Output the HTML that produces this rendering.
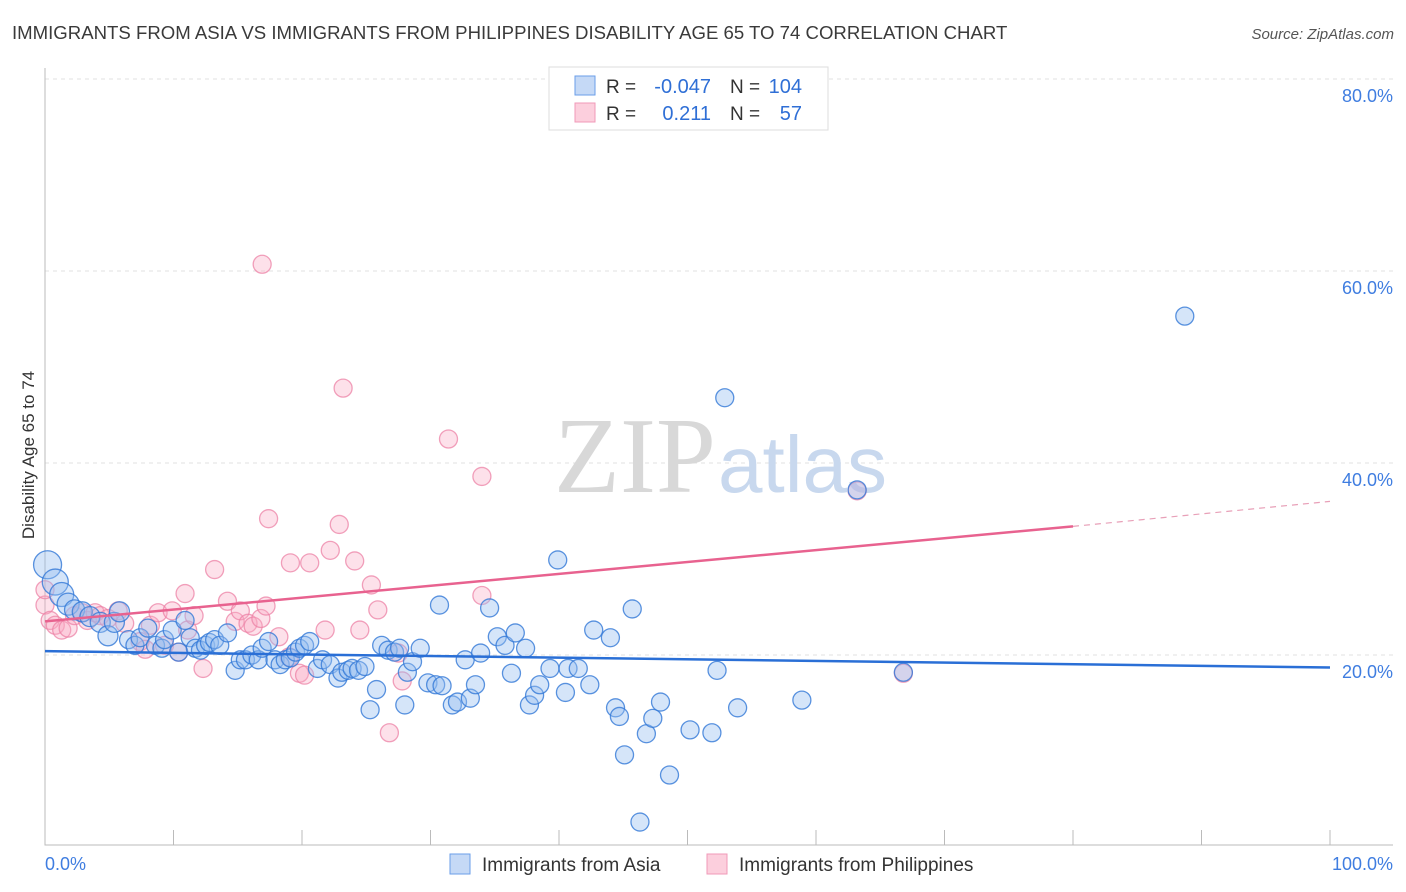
<!DOCTYPE html>
<html><head><meta charset="utf-8">
<style>
body{margin:0;background:#fff;font-family:"Liberation Sans",sans-serif;}
svg{display:block}
</style></head>
<body>
<svg width="1406" height="892">
<text x="12" y="39" font-size="18.6" fill="#3a3a3a">IMMIGRANTS FROM ASIA VS IMMIGRANTS FROM PHILIPPINES DISABILITY AGE 65 TO 74 CORRELATION CHART</text>
<text x="1394" y="39" font-size="15" fill="#555" text-anchor="end" font-style="italic">Source: ZipAtlas.com</text>
<text x="34" y="455" font-size="17" fill="#333" text-anchor="middle" transform="rotate(-90 34 455)">Disability Age 65 to 74</text>
<g id="grid"></g>
<text x="716" y="492" font-size="108" fill="#d8d8d8" text-anchor="end" font-family="Liberation Serif">ZIP</text>
<text x="718" y="492" font-size="80" fill="#c8d8ee">atlas</text>
<g id="pts"></g>
<g id="lines"></g>
<g>
<rect x="549" y="67" width="279" height="63" fill="#fff" stroke="#ddd"/>
<rect x="575" y="76" width="20" height="19" fill="#c5d9f6" stroke="#6a9ee8"/>
<rect x="575" y="103" width="20" height="19" fill="#fccfdd" stroke="#f09ab8"/>
<text x="606" y="93" font-size="19" fill="#333">R =</text>
<text x="711" y="93" font-size="20" fill="#2f6fd6" text-anchor="end">-0.047</text>
<text x="730" y="93" font-size="19" fill="#333">N =</text>
<text x="802" y="93" font-size="20" fill="#2f6fd6" text-anchor="end">104</text>
<text x="606" y="120" font-size="19" fill="#333">R =</text>
<text x="711" y="120" font-size="20" fill="#2f6fd6" text-anchor="end">0.211</text>
<text x="730" y="120" font-size="19" fill="#333">N =</text>
<text x="802" y="120" font-size="20" fill="#2f6fd6" text-anchor="end">57</text>
</g>
<g>
<rect x="450" y="854" width="20" height="20" fill="#c5d9f6" stroke="#6a9ee8"/>
<text x="482" y="871" font-size="19" fill="#333">Immigrants from Asia</text>
<rect x="707" y="854" width="20" height="20" fill="#fccfdd" stroke="#f09ab8"/>
<text x="739" y="871" font-size="19" fill="#333">Immigrants from Philippines</text>
</g>
<text x="45" y="870" font-size="18" fill="#3f7de0">0.0%</text>
<text x="1393" y="870" font-size="18" fill="#3f7de0" text-anchor="end">100.0%</text>
</svg>
<script>
const yTicks=[20,40,60,80];
const yTickLabels=["20.0%","40.0%","60.0%","80.0%"];
const asiaX=[0.2,0.8,1.3,1.8,2.3,2.9,3.5,4.3,4.9,5.4,5.8,6.5,7.0,7.4,8.0,8.6,9.1,9.3,9.9,10.4,10.9,11.3,11.7,12.1,12.5,12.8,13.2,13.6,14.2,14.8,15.2,15.6,16.1,16.6,16.9,17.4,17.9,18.3,18.7,19.1,19.5,19.8,20.2,20.6,21.2,21.6,22.2,22.8,23.1,23.6,23.9,24.4,24.9,25.3,25.8,26.2,26.7,27.2,27.6,28.0,28.2,28.6,29.2,29.8,30.4,30.7,30.9,31.7,32.1,32.7,33.1,33.5,33.9,34.6,35.2,35.8,36.3,36.6,37.4,37.7,38.1,38.5,39.3,39.9,40.5,40.7,41.5,42.4,42.7,44.0,44.4,44.7,45.1,45.7,46.3,46.8,47.3,47.9,48.6,50.2,51.9,52.3,52.9,53.9,58.9,63.2,66.8,88.7];
const asiaY=[29.4,27.6,26.3,25.3,24.7,24.5,24.0,23.4,22.0,23.4,24.5,21.6,21.0,21.8,22.8,21.0,20.7,21.6,22.6,20.3,23.6,21.8,20.7,20.5,21.0,21.3,21.6,21.0,22.3,18.4,19.5,19.5,20.0,19.5,20.7,21.4,19.5,19.0,19.5,19.7,20.3,20.7,21.0,21.4,18.6,19.5,19.0,17.6,18.2,18.4,18.6,18.4,18.8,14.3,16.4,21.0,20.5,20.3,20.7,14.8,18.2,19.3,20.7,17.1,16.9,25.2,16.8,14.8,15.1,19.5,15.5,16.9,20.2,24.9,21.9,21.0,18.1,22.3,20.7,14.8,15.8,16.9,18.6,29.9,16.1,18.6,18.6,16.9,22.6,21.8,14.5,13.6,9.6,24.8,2.6,11.8,13.4,15.1,7.5,12.2,11.9,18.4,46.8,14.5,15.3,37.2,18.2,55.3];
const philX=[0,0.4,0.8,1.3,1.8,2.3,2.9,3.3,3.9,4.3,4.9,5.7,6.2,7.4,7.8,8.2,8.8,9.3,9.9,10.4,10.9,11.1,11.6,12.3,13.2,14.2,14.8,15.2,15.8,16.2,16.8,17.2,16.9,17.4,18.2,19,19.1,19.8,20.2,20.6,21.8,22.2,22.9,23.2,24.1,24.5,25.4,25.9,26.8,27.5,27.8,31.4,34,34,63.2,66.8,0];
const philY=[25.2,23.6,23.1,22.6,22.8,24.1,24.4,23.6,24.4,24.1,23.8,24.6,23.3,21.4,20.6,23.1,24.4,21,24.6,20.3,26.4,22.6,24.1,18.6,28.9,25.6,23.5,24.6,23.3,23,23.8,25.1,60.7,34.2,21.9,19.8,29.6,18.1,17.9,29.6,22.6,30.9,33.6,47.8,29.8,22.6,27.3,24.7,11.9,20.2,17.3,42.5,38.6,26.2,37.1,18.1,26.8];
const asiaR=[14,13,12,11,10,10,10,10,10,10,10];
const ns="http://www.w3.org/2000/svg";
const X0=45,X1=1330,YB=847,PX_PER=9.6;
const xs=v=>X0+(X1-X0)*v/100;
const ys=v=>YB-v*PX_PER;
const grid=document.getElementById('grid');
yTicks.forEach((t,i)=>{
 const l=document.createElementNS(ns,'line');
 
 
 l.setAttribute('x1',45);l.setAttribute('x2',1393);l.setAttribute('y1',ys(t));l.setAttribute('y2',ys(t));
 l.setAttribute('stroke','#e2e2e2');l.setAttribute('stroke-dasharray','4 4');grid.appendChild(l);
 const tx=document.createElementNS(ns,'text');
 
 
 tx.setAttribute('x',1393);tx.setAttribute('y',ys(t)+23);tx.setAttribute('text-anchor','end');
 tx.setAttribute('font-size','18');tx.setAttribute('fill','#3f7de0');tx.textContent=yTickLabels[i];grid.appendChild(tx);
});
const ax=document.createElementNS(ns,'path');


let d='M45 68V845H1393';
for(let i=0;i<=10;i++){const x=X0+(X1-X0)*i/10;d+=`M${x} 845V830`;}
ax.setAttribute('d',d);ax.setAttribute('stroke','#bbb');ax.setAttribute('fill','none');grid.appendChild(ax);
const pts=document.getElementById('pts');
function dot(x,y,r,fill,stroke,name){
 const c=document.createElementNS(ns,'circle');
 
 
 c.setAttribute('cx',xs(x));c.setAttribute('cy',ys(y));c.setAttribute('r',r);
 c.setAttribute('fill',fill);c.setAttribute('stroke',stroke);c.setAttribute('stroke-width','1.3');pts.appendChild(c);
}
philX.forEach((x,i)=>dot(x,philY[i],9,'rgba(248,170,196,0.35)','rgba(236,130,165,0.75)','philippines-point'));
asiaX.forEach((x,i)=>dot(x,asiaY[i],asiaR[i]||9,'rgba(150,190,240,0.4)','rgba(50,120,215,0.8)','asia-point'));
const lines=document.getElementById('lines');
function line(x1,y1,x2,y2,col,w,dash,name){
 const l=document.createElementNS(ns,'line');
 
 
 l.setAttribute('x1',xs(x1));l.setAttribute('y1',ys(y1));l.setAttribute('x2',xs(x2));l.setAttribute('y2',ys(y2));
 l.setAttribute('stroke',col);l.setAttribute('stroke-width',w);if(dash)l.setAttribute('stroke-dasharray',dash);lines.appendChild(l);
}
const asiaTrend=[20.4,18.7];
const philTrend=[23.5,33.4,36.0];
line(0,asiaTrend[0],100,asiaTrend[1],'#2a6fd6',2.5,null,'asia-trend-line');
line(0,philTrend[0],80,philTrend[1],'#e8628f',2.5,null,'philippines-trend-line');
line(80,philTrend[1],100,philTrend[2],'#e8a0b8',1.2,'6 5','philippines-trend-extension');
</script>
</body></html>
